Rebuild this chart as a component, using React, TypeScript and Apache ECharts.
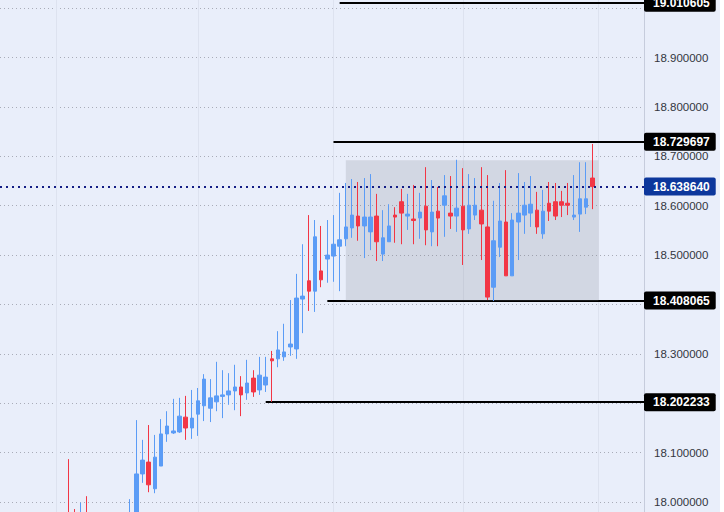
import React, { useEffect, useRef } from 'react';
import * as echarts from 'echarts';

// bar number of each candle on the time scale
const bars = [11, 12, 13, 14, 21, 22, 23, 24, 25, 26, 27, 28, 29, 30, 31, 32, 33, 34, 35, 36, 37, 38, 39, 40, 41, 42, 43, 44, 45, 46, 47, 48, 49, 50, 51, 52, 53, 54, 55, 56, 57, 58, 59, 60, 61, 62, 63, 64, 65, 66, 67, 68, 69, 70, 71, 72, 73, 74, 75, 76, 77, 78, 79, 80, 81, 82, 83, 84, 85, 86, 87, 88, 89, 90, 91, 92, 93, 94, 95, 96];
const opens = [17.96, 17.95, 17.93, 17.95, 17.93, 17.96, 18.057, 18.081, 18.027, 18.073, 18.138, 18.14, 18.142, 18.172, 18.15, 18.178, 18.195, 18.19, 18.203, 18.214, 18.217, 18.225, 18.233, 18.221, 18.251, 18.227, 18.237, 18.29, 18.29, 18.294, 18.314, 18.31, 18.411, 18.448, 18.427, 18.468, 18.492, 18.498, 18.518, 18.533, 18.555, 18.579, 18.559, 18.547, 18.579, 18.502, 18.527, 18.581, 18.608, 18.579, 18.573, 18.575, 18.599, 18.547, 18.589, 18.601, 18.585, 18.579, 18.599, 18.553, 18.581, 18.591, 18.557, 18.435, 18.516, 18.567, 18.458, 18.567, 18.581, 18.585, 18.591, 18.543, 18.605, 18.608, 18.608, 18.605, 18.577, 18.583, 18.597, 18.656];
const closes = [17.94, 17.93, 17.95, 17.93, 17.95, 18.057, 18.085, 18.035, 18.091, 18.138, 18.154, 18.144, 18.174, 18.15, 18.17, 18.205, 18.249, 18.211, 18.215, 18.217, 18.225, 18.233, 18.217, 18.241, 18.223, 18.257, 18.253, 18.286, 18.308, 18.304, 18.32, 18.413, 18.417, 18.427, 18.537, 18.45, 18.5, 18.522, 18.531, 18.557, 18.581, 18.559, 18.577, 18.577, 18.527, 18.535, 18.559, 18.577, 18.585, 18.583, 18.57, 18.587, 18.551, 18.587, 18.575, 18.62, 18.579, 18.595, 18.551, 18.601, 18.601, 18.563, 18.415, 18.529, 18.569, 18.458, 18.571, 18.585, 18.601, 18.603, 18.557, 18.589, 18.589, 18.579, 18.601, 18.601, 18.581, 18.614, 18.614, 18.63864];
const lows = [17.9, 17.9, 17.9, 17.9, 17.9, 17.94, 18.039, 18.02, 18.018, 18.073, 18.122, 18.138, 18.14, 18.126, 18.128, 18.134, 18.164, 18.162, 18.184, 18.17, 18.197, 18.186, 18.174, 18.207, 18.213, 18.217, 18.223, 18.203, 18.273, 18.286, 18.296, 18.29, 18.342, 18.387, 18.385, 18.435, 18.444, 18.446, 18.427, 18.518, 18.535, 18.529, 18.494, 18.51, 18.488, 18.488, 18.527, 18.525, 18.522, 18.551, 18.522, 18.533, 18.52, 18.518, 18.518, 18.537, 18.553, 18.547, 18.48, 18.543, 18.571, 18.49, 18.409, 18.407, 18.496, 18.458, 18.458, 18.49, 18.543, 18.557, 18.543, 18.533, 18.569, 18.571, 18.577, 18.581, 18.571, 18.547, 18.583, 18.593];
const highs = [18.087, 17.986, 17.999, 18.012, 18.006, 18.166, 18.126, 18.156, 18.136, 18.168, 18.184, 18.209, 18.211, 18.215, 18.227, 18.231, 18.259, 18.249, 18.284, 18.267, 18.261, 18.278, 18.255, 18.288, 18.267, 18.294, 18.294, 18.306, 18.346, 18.361, 18.409, 18.462, 18.522, 18.581, 18.571, 18.559, 18.571, 18.581, 18.626, 18.646, 18.654, 18.648, 18.656, 18.664, 18.624, 18.591, 18.603, 18.597, 18.634, 18.624, 18.642, 18.626, 18.678, 18.652, 18.638, 18.662, 18.66, 18.693, 18.676, 18.664, 18.656, 18.678, 18.662, 18.61, 18.646, 18.672, 18.585, 18.666, 18.648, 18.66, 18.628, 18.632, 18.648, 18.646, 18.63, 18.646, 18.662, 18.688, 18.688, 18.725];

// drawn levels: price and the bar each line starts from
const levelPrices = [19.010605, 18.729697, 18.408065, 18.202233];
const levelStarts = [55, 54, 53, 43];
const lastPrice = 18.63864;
const timeGridBars = [9, 32, 54, 75, 97];
const hiddenTicks = ['18.200000', '18.400000', '19.000000'];
const boxBars = [56, 97];
const boxPrices = [18.692, 18.407];

const BG = '#e9eefa';
const X_MIN = -0.12;
const X_MAX = 104.39;
// the price scale runs past the window on both sides, like a panned chart
const Y_MIN = 17.9;
const Y_MAX = 19.1;
const FONT = '"Liberation Sans", Arial, sans-serif';

const tagLabel = (color: string) => ({
  show: true,
  position: 'end' as const,
  distance: 0,
  formatter: (p: any) => p.data.tag,
  color: '#ffffff',
  backgroundColor: color,
  fontFamily: FONT,
  fontSize: 12,
  fontWeight: 'bold' as const,
  lineHeight: 12,
  padding: [3, 6, 3, 9],
  borderRadius: 2,
});

const App: React.FC = () => {
  const chartRef = useRef<HTMLDivElement>(null);

  useEffect(() => {
    if (!chartRef.current) return;
    document.body.style.margin = '0';
    const chart = echarts.init(chartRef.current, undefined, { renderer: 'svg' });

    chart.setOption({
      animation: false,
      backgroundColor: BG,
      grid: { left: 0, top: 0.7, width: 644, height: 592.8 },
      xAxis: { type: 'value', min: X_MIN, max: X_MAX, show: false, splitLine: { show: false } },
      yAxis: {
        type: 'value',
        position: 'right',
        min: Y_MIN,
        max: Y_MAX,
        interval: 0.1,
        axisLine: { show: true, onZero: false, lineStyle: { color: '#c6ccdc', width: 1 } },
        axisTick: { show: false },
        splitLine: { show: true, lineStyle: { color: '#a9acb8', type: [1, 3], width: 1 } },
        axisLabel: {
          margin: 10,
          color: '#333640',
          fontFamily: FONT,
          fontSize: 11.5,
          showMinLabel: false,
          showMaxLabel: false,
          formatter: (v: number) => {
            const s = v.toFixed(6);
            return hiddenTicks.includes(s) ? '' : s;
          },
        },
      },
      series: [
        {
          type: 'line',
          z: 1,
          data: [],
          silent: true,
          markLine: {
            z: 1,
            silent: true,
            symbol: 'none',
            animation: false,
            label: { show: false },
            lineStyle: { color: '#dde2ef', width: 1, type: 'solid' },
            data: timeGridBars.map((b) => ({ xAxis: b })),
          },
        },
        {
          type: 'line',
          z: 2,
          data: [],
          silent: true,
          markLine: {
            z: 2,
            silent: true,
            symbol: 'none',
            animation: false,
            lineStyle: { color: '#000000', width: 2, type: 'solid' },
            label: tagLabel('#000000'),
            data: levelPrices.map((price, i) => [
              { xAxis: levelStarts[i], yAxis: price, tag: price.toFixed(6) },
              { xAxis: X_MAX, yAxis: price },
            ]),
          },
        },
        {
          type: 'line',
          z: 3,
          data: [],
          silent: true,
          markArea: {
            z: 3,
            silent: true,
            animation: false,
            itemStyle: { color: 'rgba(120,123,134,0.2)' },
            data: [[
              { xAxis: boxBars[0], yAxis: boxPrices[0] },
              { xAxis: boxBars[1], yAxis: boxPrices[1] },
            ]],
          },
        },
        {
          type: 'candlestick',
          z: 4,
          silent: true,
          barWidth: 4,
          encode: { x: 0, y: [1, 2, 3, 4] },
          itemStyle: {
            color: '#5b9cf6',
            color0: '#f23645',
            borderColor: '#5b9cf6',
            borderColor0: '#f23645',
            borderWidth: 1,
          },
          data: bars.map((b, i) => [b, opens[i], closes[i], lows[i], highs[i]]),
        },
        {
          type: 'line',
          z: 5,
          data: [],
          silent: true,
          markLine: {
            z: 5,
            silent: true,
            symbol: 'none',
            animation: false,
            lineStyle: { color: '#131d85', width: 2, type: [2, 4] },
            label: tagLabel('#0d379c'),
            data: [[
              { xAxis: X_MIN, yAxis: lastPrice, tag: lastPrice.toFixed(6) },
              { xAxis: X_MAX, yAxis: lastPrice },
            ]],
          },
        },
      ],
    });

    return () => chart.dispose();
  }, []);

  return (
    <div style={{ width: 724, height: 512, background: '#ffffff', overflow: 'hidden' }}>
      <div ref={chartRef} style={{ width: 720, height: 594, marginTop: -42 }} />
    </div>
  );
};

export default App;
